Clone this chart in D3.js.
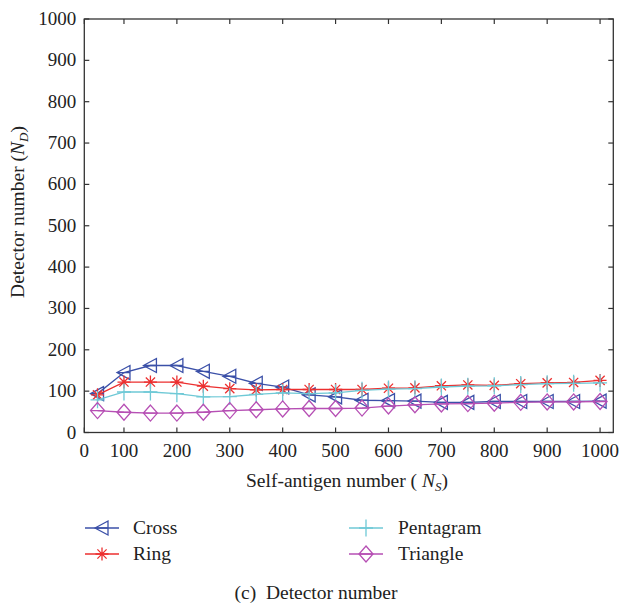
<!DOCTYPE html>
<html>
<head>
<meta charset="utf-8">
<script src="https://cdn.jsdelivr.net/npm/d3@7/dist/d3.min.js"></script>
<style>
  html, body { margin: 0; padding: 0; background: #fff; }
</style>
</head>
<body>
<svg id="chart" width="620" height="605"></svg>
<script>
// Self-antigen numbers at which detectors were counted
const selfAntigens = [50, 100, 150, 200, 250, 300, 350, 400, 450, 500, 550, 600, 650, 700, 750, 800, 850, 900, 950, 1000];

// Detector numbers for each shape-space
const crossValues     = [94, 145, 162, 162, 148, 136, 119, 110, 91, 86, 78, 77, 76, 73, 73, 75, 75, 75, 75, 76];
const ringValues      = [91, 122, 122, 122, 112, 106, 103, 104, 104, 104, 104, 107, 108, 113, 115, 114, 118, 120, 121, 126];
const pentagramValues = [79, 98, 98, 94, 86, 87, 92, 96, 94, 96, 102, 105, 106, 110, 112, 113, 116, 118, 119, 120];
const triangleValues  = [53, 49, 47, 47, 49, 53, 55, 57, 58, 58, 59, 64, 67, 69, 70, 71, 73, 74, 74, 75];

// Axis ticks
const xTickValues = [25, 100, 200, 300, 400, 500, 600, 700, 800, 900, 1000];
const xTickLabels = ["0", "100", "200", "300", "400", "500", "600", "700", "800", "900", "1000"];
const yTickValues = [0, 100, 200, 300, 400, 500, 600, 700, 800, 900, 1000];

const seriesNames = ["Cross", "Ring", "Pentagram", "Triangle"];

const series = [
  { name: seriesNames[0], values: crossValues, color: "#3b50a8", marker: "ltri" },
  { name: seriesNames[1], values: ringValues, color: "#ec2f2f", marker: "star" },
  { name: seriesNames[2], values: pentagramValues, color: "#6fc9d6", marker: "plus" },
  { name: seriesNames[3], values: triangleValues, color: "#b64fb4", marker: "diamond" }
];

const svg = d3.select("#chart");
const plot = { left: 84.3, right: 613.3, top: 19, bottom: 432.5 };

const x = d3.scaleLinear().domain([25, 1025]).range([plot.left, plot.right]);
const y = d3.scaleLinear().domain([0, 1000]).range([plot.bottom, plot.top]);

// Marker path generators, centred on 0,0
function markerPath(type) {
  switch (type) {
    case "ltri": return "M-7,0 L6,-7 L6,7 Z M-7,0 L6,0";
    case "star": {
      const r = 6.5, d = r * 0.7071;
      return `M${-r},0 L${r},0 M0,${-r} L0,${r} M${-d},${-d} L${d},${d} M${-d},${d} L${d},${-d}`;
    }
    case "plus": return "M-7,0 L7,0 M0,-8.5 L0,8.5";
    case "diamond": return "M0,-8 L7,0 L0,8 L-7,0 Z M-7,0 L7,0";
  }
}

function addText(sel, size) {
  return sel.append("text")
    .style("font-family", "Liberation Serif")
    .style("font-size", size + "px")
    .style("fill", "#222");
}

// Frame with inward ticks on all four sides
const axisColor = "#333";
const tickLen = 5;
const g = svg.append("g");

g.append("rect")
  .attr("x", plot.left).attr("y", plot.top)
  .attr("width", plot.right - plot.left).attr("height", plot.bottom - plot.top)
  .attr("fill", "none").attr("stroke", axisColor).attr("stroke-width", 1.3);

xTickValues.forEach(v => {
  g.append("line").attr("x1", x(v)).attr("x2", x(v))
    .attr("y1", plot.bottom).attr("y2", plot.bottom - tickLen)
    .attr("stroke", axisColor).attr("stroke-width", 1.2);
  g.append("line").attr("x1", x(v)).attr("x2", x(v))
    .attr("y1", plot.top).attr("y2", plot.top + tickLen)
    .attr("stroke", axisColor).attr("stroke-width", 1.2);
});
yTickValues.forEach(v => {
  g.append("line").attr("x1", plot.left).attr("x2", plot.left + tickLen)
    .attr("y1", y(v)).attr("y2", y(v))
    .attr("stroke", axisColor).attr("stroke-width", 1.2);
  g.append("line").attr("x1", plot.right).attr("x2", plot.right - tickLen)
    .attr("y1", y(v)).attr("y2", y(v))
    .attr("stroke", axisColor).attr("stroke-width", 1.2);
});

// Tick labels
const tickFont = 19;
xTickValues.forEach((v, i) => {
  addText(g, tickFont).attr("x", x(v)).attr("y", plot.bottom + 24)
    .attr("text-anchor", "middle")
    .text(xTickLabels[i]);
});
yTickValues.forEach(v => {
  addText(g, tickFont).attr("x", plot.left - 8).attr("y", y(v) + 6)
    .attr("text-anchor", "end")
    .text(v);
});

// Axis titles
const xt = addText(svg, 19.5)
  .attr("x", 347).attr("y", 487)
  .attr("text-anchor", "middle");
xt.append("tspan").text("Self-antigen number ( ");
xt.append("tspan").style("font-style", "italic").text("N");
xt.append("tspan").style("font-style", "italic").style("font-size", "13px").attr("dy", 4).text("S");
xt.append("tspan").attr("dy", -4).text(")");

const yt = addText(svg, 19.5)
  .attr("transform", "translate(24,212) rotate(-90)")
  .attr("text-anchor", "middle");
yt.append("tspan").text("Detector number (");
yt.append("tspan").style("font-style", "italic").text("N");
yt.append("tspan").style("font-style", "italic").style("font-size", "13px").attr("dy", 4).text("D");
yt.append("tspan").attr("dy", -4).text(")");

// Series lines and markers
const line = d3.line().x((d, i) => x(selfAntigens[i])).y(d => y(d));

series.forEach(s => {
  const sg = svg.append("g");
  sg.append("path").datum(s.values)
    .attr("d", line).attr("fill", "none")
    .attr("stroke", s.color).attr("stroke-width", 1.3);
  sg.selectAll("path.m").data(s.values).enter().append("path")
    .attr("class", "m")
    .attr("transform", (d, i) => `translate(${x(selfAntigens[i])},${y(d)})`)
    .attr("d", markerPath(s.marker))
    .attr("fill", "none").attr("stroke", s.color).attr("stroke-width", 1.3);
});

// Legend in two columns
const legendPos = [
  { lx: 85, tx: 133, y: 528 },
  { lx: 85, tx: 133, y: 554 },
  { lx: 349, tx: 398, y: 528 },
  { lx: 349, tx: 398, y: 554 }
];
series.forEach((s, i) => {
  const p = legendPos[i];
  const lg = svg.append("g");
  lg.append("line").attr("x1", p.lx).attr("x2", p.lx + 34)
    .attr("y1", p.y).attr("y2", p.y)
    .attr("stroke", s.color).attr("stroke-width", 1.3);
  lg.append("path")
    .attr("transform", `translate(${p.lx + 17},${p.y})`)
    .attr("d", markerPath(s.marker))
    .attr("fill", "none").attr("stroke", s.color).attr("stroke-width", 1.3);
  addText(lg, 19.5).attr("x", p.tx).attr("y", p.y + 6).text(s.name);
});

// Caption
addText(svg, 19.5)
  .attr("x", 316).attr("y", 599)
  .attr("text-anchor", "middle")
  .style("white-space", "pre")
  .text("(c)  Detector number");
</script>
</body>
</html>
